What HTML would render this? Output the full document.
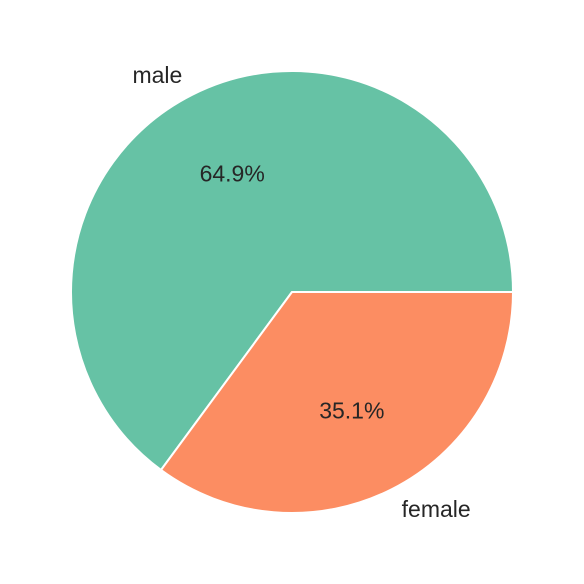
<!DOCTYPE html>
<html>
<head>
<meta charset="utf-8">
<style>
  html,body{margin:0;padding:0;background:#fff;}
  svg{display:block;}
  text{font-family:"Liberation Sans","DejaVu Sans",sans-serif;font-size:23px;fill:#262626;}
</style>
</head>
<body>
<svg id="chart" width="584" height="584" viewBox="0 0 584 584"></svg>
<script>
const categories = ["male", "female"];
const values = [64.9, 35.1];
const colors = ["#66c2a5", "#fc8d62"];

const svg = document.getElementById('chart');
const NS = 'http://www.w3.org/2000/svg';
const cx = 292, cy = 292, R = 221;
const total = values.reduce((a, b) => a + b, 0);

function pt(angDeg, r) {
  const a = angDeg * Math.PI / 180;
  return [cx + r * Math.cos(a), cy - r * Math.sin(a)];
}

let start = 0;
values.forEach((v, i) => {
  const sweep = v / total * 360;
  const end = start + sweep;
  const [x1, y1] = pt(start, R);
  const [x2, y2] = pt(end, R);
  const large = sweep > 180 ? 1 : 0;
  const p = document.createElementNS(NS, 'path');
  p.setAttribute('d', `M${cx},${cy} L${x1},${y1} A${R},${R} 0 ${large} 0 ${x2},${y2} Z`);
  p.setAttribute('fill', colors[i]);
  p.setAttribute('stroke', '#ffffff');
  p.setAttribute('stroke-width', '2');
  p.setAttribute('stroke-linejoin', 'round');
  
  
  svg.appendChild(p);

  const mid = start + sweep / 2;
  const [lx, ly] = pt(mid, R * 1.1);
  const t = document.createElementNS(NS, 'text');
  t.setAttribute('x', lx);
  t.setAttribute('y', ly);
  t.setAttribute('dominant-baseline', 'central');
  t.setAttribute('text-anchor', Math.cos(mid * Math.PI / 180) < 0 ? 'end' : 'start');
  t.textContent = categories[i];
  
  
  svg.appendChild(t);

  const [px, py] = pt(mid, R * 0.6);
  const pt2 = document.createElementNS(NS, 'text');
  pt2.setAttribute('x', px);
  pt2.setAttribute('y', py);
  pt2.setAttribute('dominant-baseline', 'central');
  pt2.setAttribute('text-anchor', 'middle');
  pt2.textContent = (v / total * 100).toFixed(1) + '%';
  
  
  svg.appendChild(pt2);

  start = end;
});
</script>
</body>
</html>
